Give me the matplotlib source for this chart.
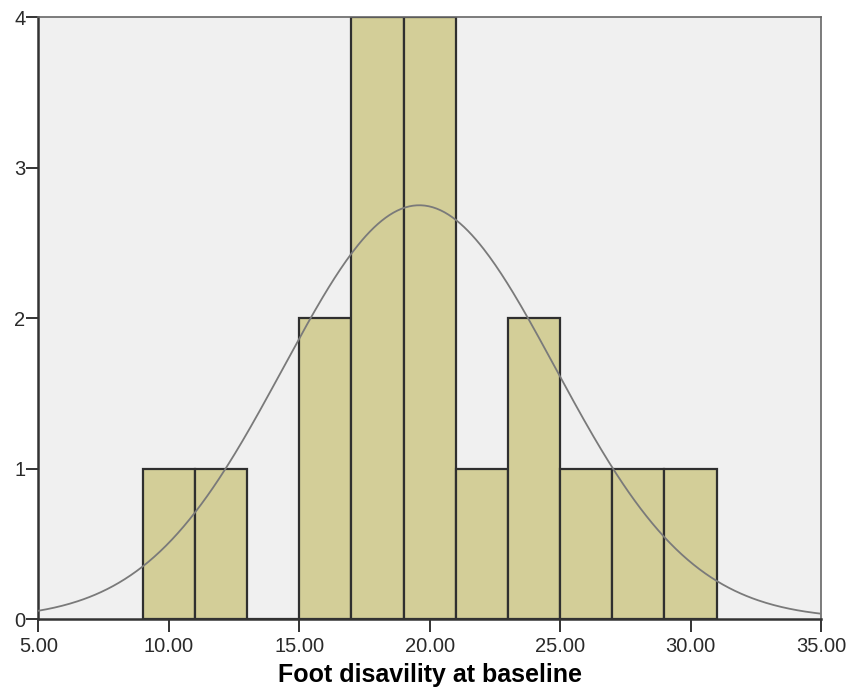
import numpy as np
import matplotlib.pyplot as plt

# histogram bins (edges) and counts
bin_edges = [9, 11, 13, 15, 17, 19, 21, 23, 25, 27, 29, 31]
counts = [1, 1, 0, 2, 4, 4, 1, 2, 1, 1, 1]
# normal curve parameters (SPSS overlay)
mean_val = 19.6
sd_val = 5.22
n_total = 18

xticks = [5, 10, 15, 20, 25, 30, 35]
yticks = [0, 1, 2, 3, 4]

plt.rcParams['font.family'] = ['Liberation Sans', 'DejaVu Sans']

fig = plt.figure(figsize=(8.49, 6.96), dpi=100)
ax = fig.add_axes([0.0453, 0.1106, 0.9217, 0.8643])
ax.set_facecolor('#F0F0F0')

edges = np.array(bin_edges, dtype=float)
ax.bar(edges[:-1], counts, width=np.diff(edges), align='edge',
       color='#D3CE98', edgecolor='#2F2F2F', linewidth=1.6, zorder=2)

#normal curve scaled to counts
binw = edges[1] - edges[0]
xs = np.linspace(5, 35, 400)
ys = n_total * binw / (sd_val * np.sqrt(2 * np.pi)) * np.exp(-0.5 * ((xs - mean_val) / sd_val) ** 2)
ax.plot(xs, ys, color='#7A7A7A', linewidth=1.3, zorder=3)

ax.set_xlim(5, 35)
ax.set_ylim(0, 4)
ax.set_xticks(xticks)
ax.set_xticklabels(['%.2f' % t for t in xticks])
ax.set_yticks(yticks)
ax.tick_params(axis='both', labelsize=14.5, width=1.4, color='#333333', labelcolor='#2A2A2A')
ax.tick_params(axis='y', pad=1, length=8.5)
ax.tick_params(axis='x', pad=3.5, length=9.5)

for s in ['left', 'bottom']:
    ax.spines[s].set_color('#333333')
    ax.spines[s].set_linewidth(1.8)
for s in ['top', 'right']:
    ax.spines[s].set_color('#666666')
    ax.spines[s].set_linewidth(1.2)

ax.set_xlabel('Foot disavility at baseline', fontsize=18, fontweight='bold', labelpad=5)

fig.savefig('out.png', dpi=100)
